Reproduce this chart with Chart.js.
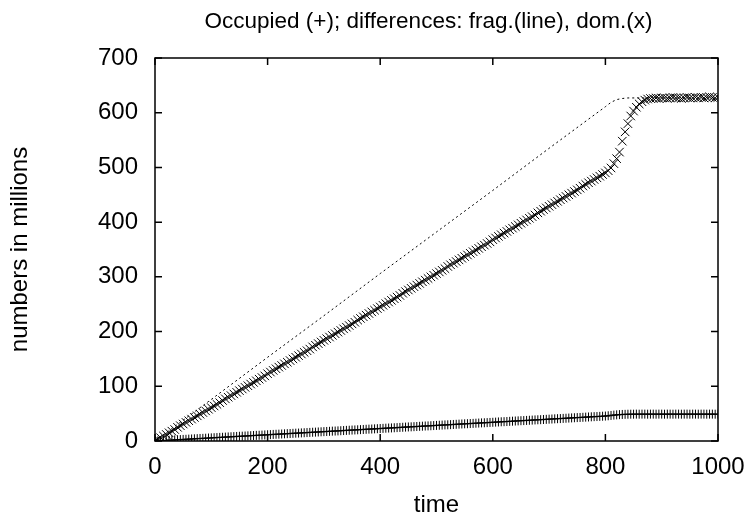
<!DOCTYPE html>
<html>
<head>
    <title>Occupied and differences</title>
    <script src="https://cdn.jsdelivr.net/npm/chart.js"></script>
    <style>
        body { margin: 0; padding: 0; background: #ffffff; }
        #wrap { width: 752px; height: 516px; }
    </style>
</head>
<body>
    <div id="wrap"><canvas id="chart" width="752" height="516"></canvas></div>
    <script>
        const chartTitle = 'Occupied (+); differences: frag.(line), dom.(x)';
        const xTitle = 'time';
        const yTitle = 'numbers in millions';

        // sample times (every 5 units)
        const times = [
            0, 5, 10, 15, 20, 25, 30, 35, 40, 45, 50, 55, 60, 65, 70, 75, 80, 85, 90, 95,
            100, 105, 110, 115, 120, 125, 130, 135, 140, 145, 150, 155, 160, 165, 170, 175, 180, 185, 190, 195,
            200, 205, 210, 215, 220, 225, 230, 235, 240, 245, 250, 255, 260, 265, 270, 275, 280, 285, 290, 295,
            300, 305, 310, 315, 320, 325, 330, 335, 340, 345, 350, 355, 360, 365, 370, 375, 380, 385, 390, 395,
            400, 405, 410, 415, 420, 425, 430, 435, 440, 445, 450, 455, 460, 465, 470, 475, 480, 485, 490, 495,
            500, 505, 510, 515, 520, 525, 530, 535, 540, 545, 550, 555, 560, 565, 570, 575, 580, 585, 590, 595,
            600, 605, 610, 615, 620, 625, 630, 635, 640, 645, 650, 655, 660, 665, 670, 675, 680, 685, 690, 695,
            700, 705, 710, 715, 720, 725, 730, 735, 740, 745, 750, 755, 760, 765, 770, 775, 780, 785, 790, 795,
            800, 805, 810, 815, 820, 825, 830, 835, 840, 845, 850, 855, 860, 865, 870, 875, 880, 885, 890, 895,
            900, 905, 910, 915, 920, 925, 930, 935, 940, 945, 950, 955, 960, 965, 970, 975, 980, 985, 990, 995,
            1000
        ];

        // Occupied (+)
        const occupied = [
            0, 0.3, 0.6, 0.9, 1.1, 1.4, 1.7, 2.0, 2.3, 2.6, 2.9, 3.1, 3.4, 3.7, 4.0, 4.3, 4.6, 4.8, 5.1, 5.4,
            5.7, 6.0, 6.3, 6.6, 6.8, 7.1, 7.4, 7.7, 8.0, 8.3, 8.6, 8.8, 9.1, 9.4, 9.7, 10.0, 10.3, 10.5, 10.8, 11.1,
            11.4, 11.7, 12.0, 12.3, 12.5, 12.8, 13.1, 13.4, 13.7, 14.0, 14.3, 14.5, 14.8, 15.1, 15.4, 15.7, 16.0, 16.2, 16.5, 16.8,
            17.1, 17.4, 17.7, 18.0, 18.2, 18.5, 18.8, 19.1, 19.4, 19.7, 20.0, 20.2, 20.5, 20.8, 21.1, 21.4, 21.7, 21.9, 22.2, 22.5,
            22.8, 23.1, 23.4, 23.7, 23.9, 24.2, 24.5, 24.8, 25.1, 25.4, 25.7, 25.9, 26.2, 26.5, 26.8, 27.1, 27.4, 27.6, 27.9, 28.2,
            28.5, 28.8, 29.1, 29.4, 29.6, 29.9, 30.2, 30.5, 30.8, 31.1, 31.4, 31.6, 31.9, 32.2, 32.5, 32.8, 33.1, 33.3, 33.6, 33.9,
            34.2, 34.5, 34.8, 35.1, 35.3, 35.6, 35.9, 36.2, 36.5, 36.8, 37.1, 37.3, 37.6, 37.9, 38.2, 38.5, 38.8, 39.0, 39.3, 39.6,
            39.9, 40.2, 40.5, 40.8, 41.0, 41.3, 41.6, 41.9, 42.2, 42.5, 42.8, 43.0, 43.3, 43.6, 43.9, 44.2, 44.5, 44.7, 45.0, 45.3,
            45.6, 46.1, 46.7, 47.3, 47.8, 48.2, 48.5, 48.7, 48.9, 49.0, 49.0, 49.1, 49.0, 49.1, 49.1, 49.0, 49.1, 49.1, 49.0, 49.1,
            49.1, 49.0, 49.1, 49.1, 49.0, 49.1, 49.1, 49.0, 49.1, 49.1, 49.0, 49.1, 49.1, 49.0, 49.1, 49.1, 49.0, 49.1, 49.1, 49.0,
            49.1
        ];

        // dom. difference (x)
        const dom = [
            0, 3, 6, 9, 12, 15, 18, 21, 25, 28, 31, 34, 37, 40, 43, 46, 49, 52, 55, 58,
            61, 64, 67, 70, 74, 77, 80, 83, 86, 89, 92, 95, 98, 101, 104, 107, 110, 113, 116, 119,
            123, 126, 129, 132, 135, 138, 141, 144, 147, 150, 153, 156, 159, 162, 165, 168, 172, 175, 178, 181,
            184, 187, 190, 193, 196, 199, 202, 205, 208, 211, 214, 217, 221, 224, 227, 230, 233, 236, 239, 242,
            245, 248, 251, 254, 257, 260, 263, 266, 270, 273, 276, 279, 282, 285, 288, 291, 294, 297, 300, 303,
            306, 309, 312, 315, 319, 322, 325, 328, 331, 334, 337, 340, 343, 346, 349, 352, 355, 358, 361, 364,
            368, 371, 374, 377, 380, 383, 386, 389, 392, 395, 398, 401, 404, 407, 410, 413, 417, 420, 423, 426,
            429, 432, 435, 438, 441, 444, 447, 450, 453, 456, 459, 462, 466, 469, 472, 475, 478, 481, 484, 487,
            490, 494, 499, 507, 516, 528, 548, 565, 580, 594, 603, 610, 616, 620, 623, 625, 626, 626, 627, 626,
            627, 627, 626, 627, 628, 627, 627, 626, 627, 628, 627, 627, 628, 627, 628, 627, 628, 629, 628, 627,
            628
        ];

        // frag. difference (dotted line)
        const fragTimes = [0, 100, 200, 300, 400, 500, 600, 700, 800, 810, 820, 830, 840, 860, 900, 1000];
        const fragValues = [0, 76, 153, 229, 306, 382, 458, 535, 611, 619, 624, 626, 627, 627, 627, 627];

        const xTicks = [0, 200, 400, 600, 800, 1000];
        const yTicks = [0, 100, 200, 300, 400, 500, 600, 700];

        const font = 'Liberation Sans, Arial, Helvetica, sans-serif';

        // frame with inward ticks on all four sides, plus the title over the plot
        const framePlugin = {
            id: 'frame',
            afterDraw(chart) {
                const { ctx, chartArea: a, scales } = chart;
                const len = 7;
                ctx.save();
                ctx.strokeStyle = '#000';
                ctx.lineWidth = 1.5;
                ctx.strokeRect(a.left, a.top, a.right - a.left, a.bottom - a.top);
                ctx.beginPath();
                xTicks.forEach(v => {
                    const px = scales.x.getPixelForValue(v);
                    ctx.moveTo(px, a.bottom); ctx.lineTo(px, a.bottom - len);
                    ctx.moveTo(px, a.top); ctx.lineTo(px, a.top + len);
                });
                yTicks.forEach(v => {
                    const py = scales.y.getPixelForValue(v);
                    ctx.moveTo(a.left, py); ctx.lineTo(a.left + len, py);
                    ctx.moveTo(a.right, py); ctx.lineTo(a.right - len, py);
                });
                ctx.stroke();
                ctx.fillStyle = '#000';
                ctx.font = '22.5px ' + font;
                ctx.textAlign = 'center';
                ctx.textBaseline = 'middle';
                ctx.fillText(chartTitle, (a.left + a.right) / 2 - 8, 22);
                ctx.restore();
            }
        };

        const ctx = document.getElementById('chart').getContext('2d');
        new Chart(ctx, {
            type: 'scatter',
            data: {
                datasets: [
                    {
                        label: 'frag.',
                        type: 'line',
                        data: fragTimes.map((t, i) => ({ x: t, y: fragValues[i] })),
                        borderColor: '#000',
                        borderWidth: 1,
                        borderDash: [2, 3],
                        pointRadius: 0,
                        fill: false,
                        tension: 0
                    },
                    {
                        label: 'dom.',
                        data: times.map((t, i) => ({ x: t, y: dom[i] })),
                        pointStyle: 'crossRot',
                        pointRadius: 6,
                        borderColor: '#000',
                        borderWidth: 1,
                        backgroundColor: 'transparent'
                    },
                    {
                        label: 'Occupied',
                        data: times.map((t, i) => ({ x: t, y: occupied[i] })),
                        pointStyle: 'cross',
                        pointRadius: 4.5,
                        borderColor: '#000',
                        borderWidth: 1,
                        backgroundColor: 'transparent'
                    }
                ]
            },
            options: {
                responsive: false,
                animation: false,
                layout: { padding: { top: 58, right: 34, left: 0, bottom: 0 } },
                plugins: {
                    legend: { display: false },
                    title: { display: false },
                    tooltip: { enabled: false }
                },
                scales: {
                    x: {
                        type: 'linear',
                        min: 0,
                        max: 1000,
                        afterFit: s => { s.height = 75; s.paddingRight = 0; },
                        afterBuildTicks: s => { s.ticks = xTicks.map(v => ({ value: v })); },
                        grid: { display: false, drawTicks: false },
                        border: { display: false },
                        ticks: { color: '#000', font: { family: font, size: 24 }, padding: 12, maxRotation: 0, callback: v => String(v) },
                        title: { display: true, text: xTitle, color: '#000', font: { family: font, size: 24 }, padding: { top: 12, bottom: -4 } }
                    },
                    y: {
                        min: 0,
                        max: 700,
                        afterFit: s => { s.width = 155; },
                        afterBuildTicks: s => { s.ticks = yTicks.map(v => ({ value: v })); },
                        grid: { display: false, drawTicks: false },
                        border: { display: false },
                        ticks: { color: '#000', font: { family: font, size: 24 }, padding: 17 },
                        title: { display: true, text: yTitle, color: '#000', font: { family: font, size: 24 }, padding: { top: 6, bottom: 4 } }
                    }
                }
            },
            plugins: [framePlugin]
        });
    </script>
</body>
</html>
